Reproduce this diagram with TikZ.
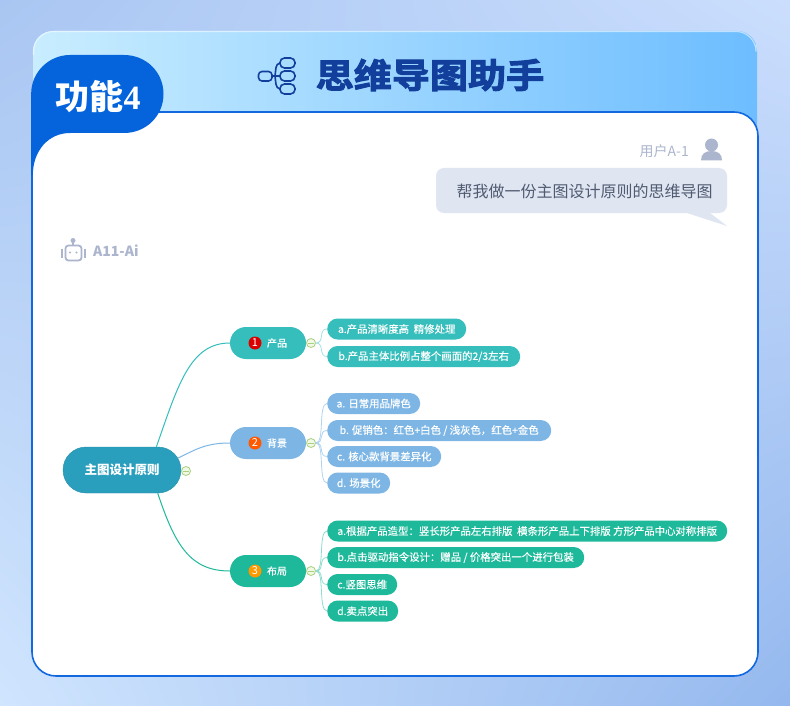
\documentclass[tikz,border=0pt]{standalone}
\usepackage{fontspec}
\setsansfont{Noto Sans CJK SC}
\newfontfamily\titlefont[FakeStretch=1.12,FakeBold=3]{Noto Sans CJK SC Bold}
\newfontfamily\leaffont[FakeBold=0.3]{Noto Sans CJK SC}
\newfontfamily\numfont{Liberation Serif}
\usetikzlibrary{shapes.misc,shadings}
\definecolor{rootcol}{HTML}{2A9FBD}
\definecolor{chanpincol}{HTML}{35BEBC}
\definecolor{beijingcol}{HTML}{7DB6E5}
\definecolor{bujucol}{HTML}{1DB99A}
\definecolor{panelblue}{HTML}{1368E0}
\definecolor{tabblue}{HTML}{0563DC}
\definecolor{navycol}{HTML}{123F9C}
\definecolor{greycol}{HTML}{ABB5CD}
\definecolor{bubblecol}{HTML}{E0E5F2}
\definecolor{askcol}{HTML}{4F5B70}
\definecolor{foldcol}{HTML}{A8D080}
\definecolor{foldfill}{HTML}{F1F8E4}
\definecolor{pagetl}{HTML}{A9C6F2}
\definecolor{pagetr}{HTML}{CBDEFD}
\definecolor{pagebl}{HTML}{D0E5FE}
\definecolor{pagebr}{HTML}{94B8EE}
\definecolor{headleft}{HTML}{C9EDFF}
\definecolor{headright}{HTML}{6DBDFF}
\tikzset{
  rootnode/.style={rounded rectangle, fill=rootcol, draw=rootcol!90!black, text=white,
    minimum width=118pt, minimum height=46pt, inner sep=0pt,
    font=\sffamily\bfseries\fontsize{12.5}{14}\selectfont},
  branchnode/.style={rounded rectangle, text=white, minimum width=76pt, minimum height=32pt,
    inner sep=0pt, font=\leaffont\fontsize{10}{12}\selectfont},
  leafnode/.style={rounded rectangle, anchor=west, text=white, minimum height=21pt,
    inner sep=0pt, font=\leaffont\fontsize{10.4}{12}\selectfont},
  numnode/.style={circle, text=white, minimum size=13pt, inner sep=0pt,
    font=\sffamily\fontsize{11}{12}\selectfont},
  foldnode/.style={circle, draw=foldcol, fill=foldfill, line width=0.8pt,
    minimum size=9pt, inner sep=0pt,
    path picture={\draw[foldcol, line width=0.8pt, shorten >=1.6pt, shorten <=1.6pt]
      (path picture bounding box.west) -- (path picture bounding box.east);}},
  pilldraw/.style={draw=navycol, line width=1.6pt, rounded corners=3.5pt},
  robotdraw/.style={draw=greycol, line width=1.8pt},
  greylabel/.style={text=greycol, font=\sffamily\fontsize{14}{16}\selectfont, inner sep=0pt}
}
\begin{document}
\begin{tikzpicture}[x=1pt,y=-1pt]
  \useasboundingbox (0,0) rectangle (790,706);
  % page and card
  \shade[upper left=pagetl, upper right=pagetr, lower left=pagebl, lower right=pagebr]
        (0,0) rectangle (790,706);
  \shade[left color=headleft, right color=headright, rounded corners=20pt]
        (33,31) rectangle (757,160);
  \draw[white, opacity=0.55, line width=1.1pt, rounded corners=20pt] (33.5,55) -- (33.5,31.5) -- (756,31.5) -- (756,45);
  \draw[fill=white, draw=panelblue, line width=1.6pt, rounded corners=24pt]
        (32,112) rectangle (758,676);
  \fill[tabblue] (31.2,175) -- (31.2,93) .. controls (31.5,72) and (49,55) .. (70,55)
        -- (124,55) .. controls (146,55) and (163.5,72) .. (163.5,94)
        .. controls (163.5,116) and (146,133) .. (124,133) -- (70,133)
        .. controls (49,133) and (33,150) .. (32.8,175) -- cycle;
  \node[text=white, inner sep=0pt] (tabtitle) at (98,97)
       {\sffamily\bfseries\fontsize{34}{36}\selectfont 功能{\numfont\bfseries 4}};
  % header icon
  \draw[pilldraw] (258.5,71.5) rectangle (272,81);
  \draw[pilldraw, rounded corners=4.5pt] (280,58) rectangle (295,68);
  \draw[pilldraw, rounded corners=4.5pt] (280,71) rectangle (295,81);
  \draw[pilldraw, rounded corners=4.5pt] (280,84) rectangle (295,94);
  \draw[navycol, line width=1.6pt] (272,76) -- (280,76) (280,63) .. controls (275,64) and (276,70) .. (275,76)
        .. controls (276,82) and (275,88) .. (280,89);
  \node[text=navycol, inner sep=0pt] (headtitle) at (430,75)
       {\titlefont\fontsize{34}{38}\selectfont 思维导图助手};
  % user message
  \node[greylabel, anchor=east] (userlabel) at (689,151) {用户A-1};
  \fill[greycol] (711.5,145) circle[radius=6.5];
  \fill[greycol] (701,160.5) .. controls (701,154) and (705,151) .. (711.5,151)
        .. controls (718,151) and (722,154) .. (722,160.5) -- cycle;
  \fill[bubblecol, rounded corners=8pt] (436,168) rectangle (727,213);
  \fill[bubblecol] (687,213) -- (727,226) -- (710,213) -- cycle;
  \node[text=askcol, inner sep=0pt] (userask) at (584.5,191)
       {\sffamily\fontsize{16}{18}\selectfont 帮我做一份主图设计原则的思维导图};
  % robot
  \draw[robotdraw, rounded corners=3pt] (65.5,245.5) rectangle (81.5,260.5);
  \fill[greycol] (73,240.5) circle[radius=2.5];
  \draw[robotdraw] (73,241) -- (73,245) (62,248.5) -- (62,257.5) (85,248.5) -- (85,257.5);
  \fill[greycol] (70,252.5) circle[radius=1.2] (76.5,252.5) circle[radius=1.2];
  \node[greylabel, anchor=west, font=\sffamily\bfseries\fontsize{14}{16}\selectfont] (ailabel) at (93,251) {A11-Ai};
  % mind map
  \node[rootnode] (root) at (122,470) {主图设计原则};
  \node[foldnode] (foldroot) at (186,471) {};

  \node[branchnode, fill=chanpincol] (chanpin) at (268,343) {\hspace*{18pt}产品};
  \node[branchnode, fill=beijingcol] (beijing) at (268,443) {\hspace*{18pt}背景};
  \node[branchnode, fill=bujucol] (buju) at (268,571) {\hspace*{18pt}布局};
  \node[numnode, fill=red!85!black] (numone) at (255,343) {1};
  \node[numnode, fill=orange!70!red] (numtwo) at (255,443) {2};
  \node[numnode, fill=orange!80!yellow] (numthree) at (255,571) {3};
  \node[foldnode] (foldchanpin) at (311,343) {};
  \node[foldnode] (foldbeijing) at (311,443) {};
  \node[foldnode] (foldbuju) at (311,571) {};

  \node[leafnode, fill=chanpincol, minimum width=139pt] (chanpinA) at (327,329) {a.产品清晰度高\ \ 精修处理};
  \node[leafnode, fill=chanpincol, minimum width=193pt] (chanpinB) at (327,356.5) {b.产品主体比例占整个画面的2/3左右};
  \node[leafnode, fill=beijingcol, minimum width=93pt] (beijingA) at (327,403.5) {a. 日常用品牌色};
  \node[leafnode, fill=beijingcol, minimum width=224pt] (beijingB) at (327,430.5) {b. 促销色：红色+白色 / 浅灰色，红色+金色};
  \node[leafnode, fill=beijingcol, minimum width=114pt] (beijingC) at (327,456.5) {c. 核心款背景差异化};
  \node[leafnode, fill=beijingcol, minimum width=63pt] (beijingD) at (327,483) {d. 场景化};
  \node[leafnode, fill=bujucol, minimum width=400pt] (bujuA) at (327,531) {a.根据产品造型：竖长形产品左右排版\ \ 横条形产品上下排版 方形产品中心对称排版};
  \node[leafnode, fill=bujucol, minimum width=257pt] (bujuB) at (327,557.5) {b.点击驱动指令设计：赠品 / 价格突出一个进行包装};
  \node[leafnode, fill=bujucol, minimum width=70pt] (bujuC) at (327,584.5) {c.竖图思维};
  \node[leafnode, fill=bujucol, minimum width=71pt] (bujuD) at (327,611) {d.卖点突出};

  \draw[chanpincol, line width=1pt] (root.34) .. controls (178,385) and (190,343) .. (chanpin.west);
  \draw[beijingcol, line width=1pt] (root.12) .. controls (195,450) and (205,443) .. (beijing.west);
  \draw[bujucol, line width=1pt] (root.-33) .. controls (175,545) and (190,571) .. (buju.west);
  \foreach \leaf in {chanpinA,chanpinB}
    \draw[chanpincol!45, line width=0.8pt] (foldchanpin.east) .. controls +(9,0) and +(-9,0) .. (\leaf.west);
  \foreach \leaf in {beijingA,beijingB,beijingC,beijingD}
    \draw[beijingcol!60, line width=0.8pt] (foldbeijing.east) .. controls +(9,0) and +(-9,0) .. (\leaf.west);
  \foreach \leaf in {bujuA,bujuB,bujuC,bujuD}
    \draw[bujucol!50, line width=0.8pt] (foldbuju.east) .. controls +(9,0) and +(-9,0) .. (\leaf.west);
\end{tikzpicture}
\end{document}
